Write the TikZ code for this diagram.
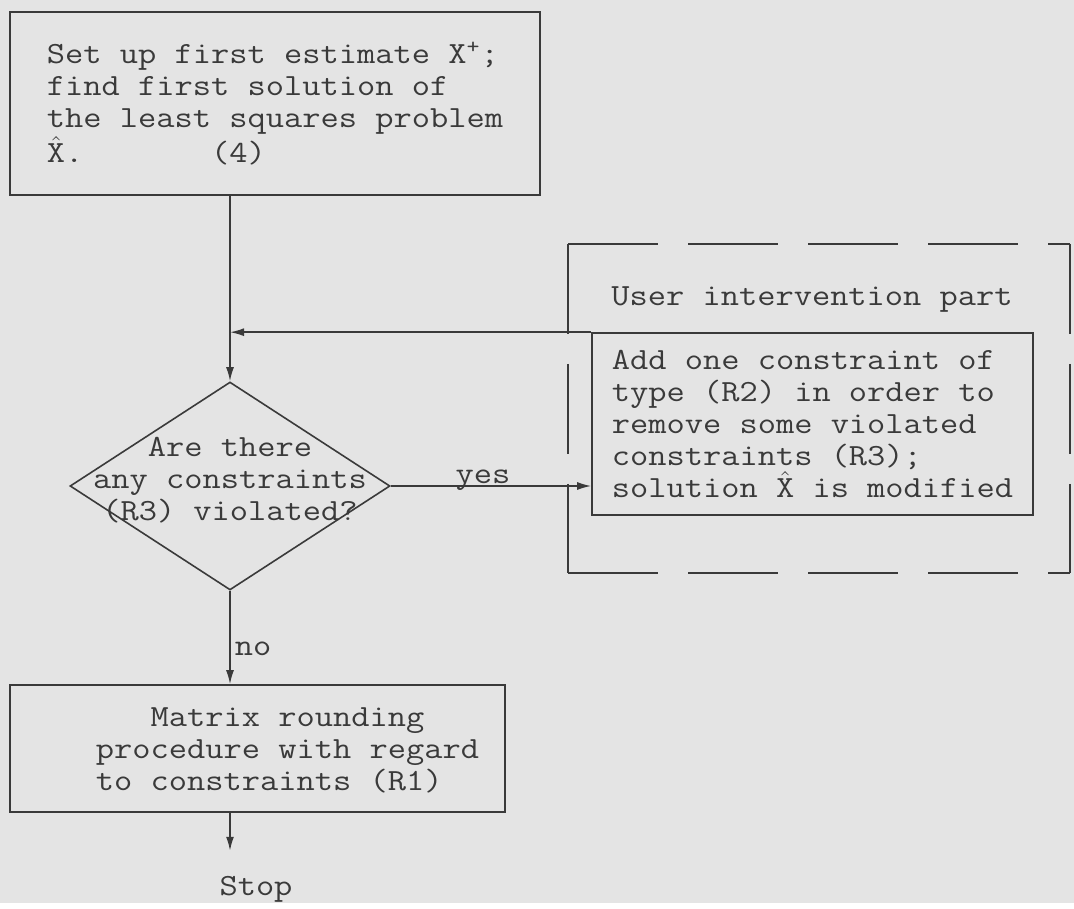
\documentclass[tikz,border=0pt]{standalone}
\usepackage{fontspec}
\setmonofont[FakeStretch=1.15]{Latin Modern Mono}
\usetikzlibrary{shapes.geometric, arrows.meta, positioning, calc}
\definecolor{scanbg}{HTML}{E4E4E4}
\definecolor{inkgrey}{HTML}{3A3A3A}
\newcommand{\xhat}{$\hat{\mbox{X}}$}
\tikzset{
  flowbox/.style={draw=inkgrey, line width=0.8pt, rectangle, inner sep=0pt},
  decision/.style={draw=inkgrey, line width=0.8pt, diamond, aspect=1.54, minimum width=160pt, minimum height=104pt, inner sep=0pt},
  flowtext/.style={text=inkgrey, font=\fontsize{15.4}{16}\selectfont\ttfamily},
  flowarrow/.style={draw=inkgrey, line width=0.8pt, -{Latex[length=7pt,width=4pt]}},
  userpart/.style={draw=inkgrey, line width=0.8pt, dash pattern=on 45pt off 15pt}
}

\begin{document}
\begin{tikzpicture}[x=0.5pt, y=-0.5pt]
  % Page background
  \fill[scanbg] (0,0) rectangle (1074,903);

  % First estimate
  \node[flowbox, flowtext, align=left, minimum width=265pt, minimum height=91.5pt] (init) at (275,103.5)
    {Set up first estimate X\textsuperscript{+};\\find first solution of\\the least squares problem\\\xhat.\ \ \ \ \ \ \ (4)};

  % Test of the constraints (R3)
  \node[decision] (dec) at (230,486) {};
  \node[flowtext, align=center] (dectext) at ([yshift=3pt]dec.center) {Are there\\any constraints\\(R3) violated?};

  % User intervention part (RIGHT SIDE)
  \coordinate (user nw) at (568,244);
  \coordinate (user se) at (1070,573);
  \draw[userpart] (user nw) -- (user nw -| user se);
  \draw[userpart] (user nw -| user se) -- (user se);
  \draw[userpart] (user nw) -- (user nw |- user se);
  \draw[userpart] (user nw |- user se) -- (user se);
  \node[flowtext] (usertitle) at (812,300) {User intervention part};
  \node[flowbox, flowtext, align=left, minimum width=220.5pt, minimum height=91pt] (modify) at (812.5,424)
    {Add one constraint of\\type (R2) in order to\\remove some violated\\constraints (R3);\\solution \xhat{} is modified};

  % Rounding
  \node[flowbox, minimum width=247.5pt, minimum height=63.5pt] (round) at (257.5,748.5) {};
  \node[flowtext, align=left] (roundtext) at ([xshift=15pt, yshift=-1pt]round.center)
    {\hphantom{xxx}Matrix rounding\\procedure with regard\\to constraints (R1)};
  \node[flowtext, anchor=base] (stop) at (256,895) {Stop};

  % Connectors
  \coordinate (merge) at (dec.north |- modify.north west);
  \draw[flowarrow] (dec.north |- init.south) -- (dec.north);
  \draw[flowarrow] (modify.north west) -- (merge);
  \draw[flowarrow] (dec.east) -- node[flowtext, anchor=base, pos=0.46, yshift=1pt] {yes} (dec.east -| modify.west);
  \draw[flowarrow] (dec.south) -- node[flowtext, right, pos=0.62, inner sep=2pt] {no} (dec.south |- round.north);
  \draw[flowarrow, shorten >=9pt] (dec.south |- round.south) -- (dec.south |- stop.north);
\end{tikzpicture}
\end{document}
